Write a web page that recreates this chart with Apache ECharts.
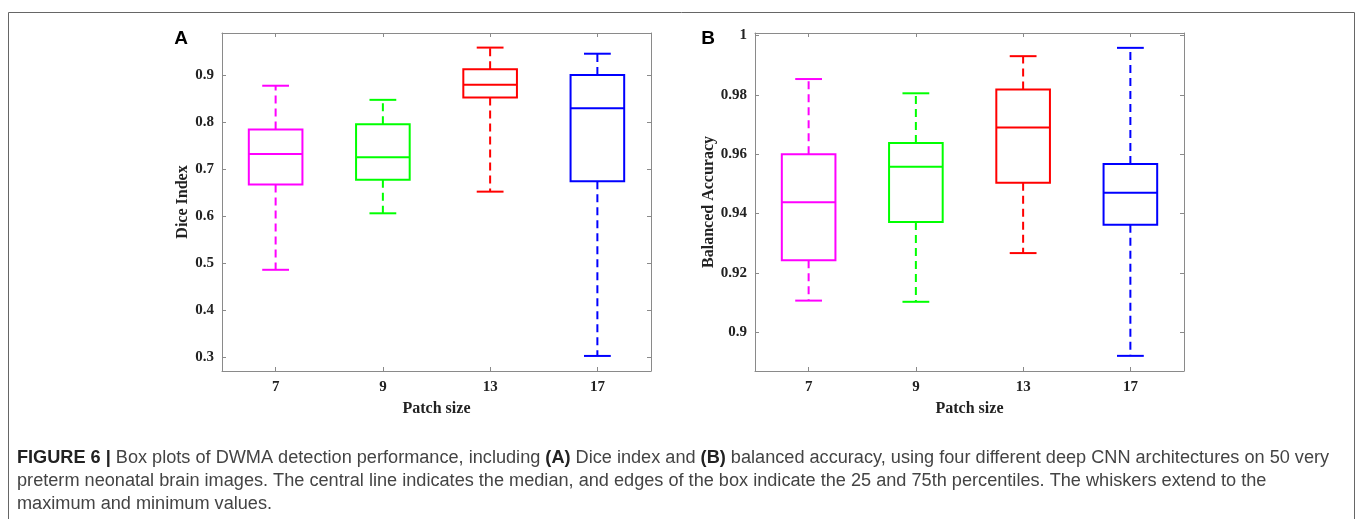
<!DOCTYPE html>
<html>
<head>
    <meta charset="utf-8">
    <title>DWMA box plots</title>
    <script src="https://cdn.jsdelivr.net/npm/echarts@6/dist/echarts.min.js"></script>
    <style>
        html, body { margin: 0; padding: 0; background: #fff; }
        #chart { width: 1360px; height: 519px; }
    </style>
</head>
<body>
<div id="chart"></div>
<script>
    // patch sizes on the x axis
    var categories = ['7', '9', '13', '17'];

    // (A) Dice index
    var diceMin    = [0.486, 0.606, 0.652, 0.303];
    var diceQ1     = [0.667, 0.677, 0.852, 0.674];
    var diceMedian = [0.732, 0.725, 0.879, 0.829];
    var diceQ3     = [0.784, 0.795, 0.912, 0.900];
    var diceMax    = [0.877, 0.847, 0.958, 0.945];
    var diceTicks  = [0.3, 0.4, 0.5, 0.6, 0.7, 0.8, 0.9];

    // (B) balanced accuracy
    var accMin    = [0.9107, 0.9103, 0.9267, 0.8921];
    var accQ1     = [0.9243, 0.9372, 0.9504, 0.9362];
    var accMedian = [0.9438, 0.9558, 0.9690, 0.9470];
    var accQ3     = [0.9600, 0.9638, 0.9818, 0.9567];
    var accMax    = [0.9853, 0.9805, 0.9930, 0.9958];
    var accTicks  = [0.9, 0.92, 0.94, 0.96, 0.98, 1];

    var boxColors = ['#ff00ff', '#00ff00', '#ff0000', '#0000ff'];
    var axisGray = '#8a8a8a';
    var serif = '"Liberation Serif", "Times New Roman", serif';
    var sans = '"Liberation Sans", Arial, sans-serif';

    function boxData(mn, q1, md, q3, mx) {
        return categories.map(function (c, i) {
            return [i, mn[i], q1[i], md[i], q3[i], mx[i]];
        });
    }

    // draws one matlab-like box: dashed whiskers, solid caps, box and median
    function renderBox(params, api) {
        var i = api.value(0);
        var pMin = api.coord([i, api.value(1)]);
        var pQ1 = api.coord([i, api.value(2)]);
        var pMed = api.coord([i, api.value(3)]);
        var pQ3 = api.coord([i, api.value(4)]);
        var pMax = api.coord([i, api.value(5)]);
        var band = api.size([1, 0])[0];
        var bw = band * 0.5;
        var cw = bw * 0.5;
        var cx = pMed[0];
        var color = boxColors[params.dataIndex];
        var solid = { stroke: color, lineWidth: 2, fill: null };
        var dashed = { stroke: color, lineWidth: 2, lineDash: [8, 5], fill: null };
        return {
            type: 'group',
            children: [
                { type: 'line', shape: { x1: cx, y1: pQ3[1], x2: cx, y2: pMax[1] }, style: dashed },
                { type: 'line', shape: { x1: cx, y1: pQ1[1], x2: cx, y2: pMin[1] }, style: dashed },
                { type: 'line', shape: { x1: cx - cw / 2, y1: pMax[1], x2: cx + cw / 2, y2: pMax[1] }, style: solid },
                { type: 'line', shape: { x1: cx - cw / 2, y1: pMin[1], x2: cx + cw / 2, y2: pMin[1] }, style: solid },
                { type: 'rect', shape: { x: cx - bw / 2, y: pQ3[1], width: bw, height: pQ1[1] - pQ3[1] }, style: solid },
                { type: 'line', shape: { x1: cx - bw / 2, y1: pMed[1], x2: cx + bw / 2, y2: pMed[1] }, style: solid }
            ]
        };
    }

    function catAxis(grid, pos, showLabel, name) {
        return {
            type: 'category', gridIndex: grid, position: pos, data: categories,
            boundaryGap: true,
            name: name || '', nameLocation: 'middle', nameGap: 30,
            nameTextStyle: { fontFamily: serif, fontWeight: 'bold', fontSize: 16, color: '#222' },
            axisLine: { show: true, lineStyle: { color: axisGray, width: 1 } },
            axisTick: { show: true, inside: true, alignWithLabel: true, length: 4, lineStyle: { color: axisGray } },
            axisLabel: { show: showLabel, margin: 9, fontFamily: serif, fontWeight: 'bold', fontSize: 15, color: '#222' },
            splitLine: { show: false }
        };
    }

    function valAxis(grid, pos, showLabel, min, max, ticks, name, gap) {
        return {
            type: 'value', gridIndex: grid, position: pos, min: min, max: max,
            name: name || '', nameLocation: 'middle', nameGap: gap || 0,
            nameTextStyle: { fontFamily: serif, fontWeight: 'bold', fontSize: 16, color: '#222' },
            axisLine: { show: true, lineStyle: { color: axisGray, width: 1 } },
            axisTick: { show: true, inside: true, length: 4, customValues: ticks, lineStyle: { color: axisGray } },
            axisLabel: { show: showLabel, margin: 8, customValues: ticks, fontFamily: serif, fontWeight: 'bold', fontSize: 15, color: '#222' },
            splitLine: { show: false }
        };
    }

    var chart = echarts.init(document.getElementById('chart'));

    var option = {
        animation: false,
        grid: [
            { left: 222, top: 33, width: 429, height: 338 },
            { left: 755, top: 33, width: 429, height: 338 }
        ],
        xAxis: [
            catAxis(0, 'bottom', true, 'Patch size'),
            catAxis(0, 'top', false),
            catAxis(1, 'bottom', true, 'Patch size'),
            catAxis(1, 'top', false)
        ],
        yAxis: [
            valAxis(0, 'left', true, 0.271, 0.989, diceTicks, 'Dice Index', 30),
            valAxis(0, 'right', false, 0.271, 0.989, diceTicks),
            valAxis(1, 'left', true, 0.887, 1.0008, accTicks, 'Balanced Accuracy', 38),
            valAxis(1, 'right', false, 0.887, 1.0008, accTicks)
        ],
        series: [
            {
                type: 'custom', xAxisIndex: 0, yAxisIndex: 0,
                renderItem: renderBox,
                encode: { x: 0, y: [1, 2, 3, 4, 5] },
                data: boxData(diceMin, diceQ1, diceMedian, diceQ3, diceMax)
            },
            {
                type: 'custom', xAxisIndex: 2, yAxisIndex: 2,
                renderItem: renderBox,
                encode: { x: 0, y: [1, 2, 3, 4, 5] },
                data: boxData(accMin, accQ1, accMedian, accQ3, accMax)
            }
        ],
        graphic: [
            // outer frame of the figure
            { type: 'rect', shape: { x: 8.5, y: 12.5, width: 1346, height: 520 },
              style: { fill: null, stroke: '#666', lineWidth: 1 } },
            { type: 'text', x: 181, y: 39,
              style: { text: 'A', font: 'bold 19px ' + sans, fill: '#000',
                       align: 'center', verticalAlign: 'middle' } },
            { type: 'text', x: 708, y: 39,
              style: { text: 'B', font: 'bold 19px ' + sans, fill: '#000',
                       align: 'center', verticalAlign: 'middle' } },
            { type: 'text', left: 17, top: 446,
              style: {
                  text: '{b|FIGURE 6 |} Box plots of DWMA detection performance, including {b|(A)} Dice index and {b|(B)} balanced accuracy, using four different deep CNN architectures on 50 very\n' +
                        'preterm neonatal brain images. The central line indicates the median, and edges of the box indicate the 25 and 75th percentiles. The whiskers extend to the\n' +
                        'maximum and minimum values.',
                  font: '18.15px ' + sans,
                  fill: '#444',
                  lineHeight: 23,
                  rich: {
                      b: { fontWeight: 'bold', fontSize: 18.15, fontFamily: sans, fill: '#222', lineHeight: 23 }
                  }
              } }
        ]
    };

    chart.setOption(option);
</script>
</body>
</html>
